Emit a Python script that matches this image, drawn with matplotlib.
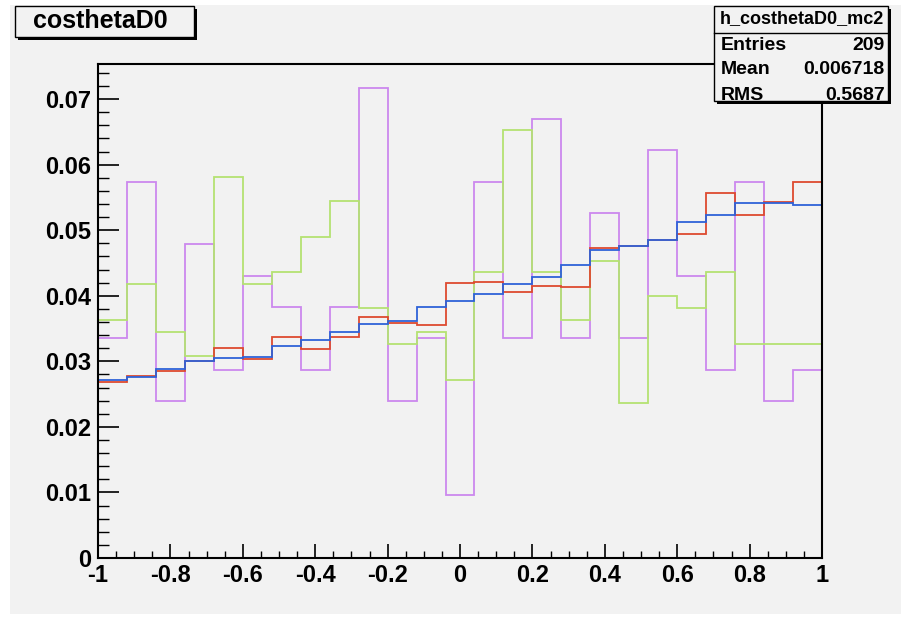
import numpy as np
import matplotlib
matplotlib.use('Agg')
import matplotlib.pyplot as plt
from matplotlib import font_manager
from matplotlib.patches import Rectangle
from matplotlib.ticker import MultipleLocator

# 25 bins on cos(theta) from -1 to 1
bin_edges = np.linspace(-1.0, 1.0, 26)

# mc2 sample, raw counts per bin (209 entries)
counts_mc2 = [7, 12, 5, 10, 6, 9, 8, 6, 8, 15, 5, 7, 2,
              12, 7, 14, 7, 11, 7, 13, 9, 6, 12, 5, 6]

# second small sample, raw counts per bin
counts_green = [20, 23, 19, 17, 32, 23, 24, 27, 30, 21, 18, 19, 15,
                24, 36, 24, 20, 25, 13, 22, 21, 24, 18, 18, 18]

# large samples, already normalised
frac_red = [0.0268, 0.0277, 0.0285, 0.0301, 0.0320, 0.0303, 0.0337, 0.0319,
            0.0337, 0.0368, 0.0359, 0.0355, 0.0419, 0.0421, 0.0406, 0.0415,
            0.0414, 0.0473, 0.0476, 0.0485, 0.0495, 0.0557, 0.0523, 0.0543,
            0.0574]
frac_blue = [0.0271, 0.0276, 0.0288, 0.0301, 0.0305, 0.0307, 0.0323, 0.0332,
             0.0345, 0.0357, 0.0361, 0.0383, 0.0392, 0.0403, 0.0418, 0.0429,
             0.0447, 0.0470, 0.0476, 0.0485, 0.0513, 0.0523, 0.0541, 0.0542,
             0.0539]

stats_name = 'h_costhetaD0_mc2'
stats_rows = [('Entries', '209'), ('Mean', '0.006718'), ('RMS', '0.5687')]

x_ticks = [-1, -0.8, -0.6, -0.4, -0.2, 0, 0.2, 0.4, 0.6, 0.8, 1]
x_tick_labels = ['-1', '-0.8', '-0.6', '-0.4', '-0.2', '0', '0.2', '0.4', '0.6', '0.8', '1']
y_ticks = [0, 0.01, 0.02, 0.03, 0.04, 0.05, 0.06, 0.07]
y_tick_labels = ['0', '0.01', '0.02', '0.03', '0.04', '0.05', '0.06', '0.07']

W, H = 901, 617
BG = '#f2f2f2'


def fx(px):
    return px / W


def fy(py):
    return 1 - py / H


def box(fig, x0, y0, x1, y1, shadow=3):
    # ROOT style pave: black drop shadow, then the framed box
    fig.patches.append(Rectangle((fx(x0 + shadow), fy(y1 + shadow)), fx(x1 - x0), (y1 - y0) / H,
                                 transform=fig.transFigure, facecolor='black', edgecolor='none', zorder=5))
    fig.patches.append(Rectangle((fx(x0), fy(y1)), fx(x1 - x0), (y1 - y0) / H,
                                 transform=fig.transFigure, facecolor=BG, edgecolor='black',
                                 linewidth=1.0, zorder=6))


plt.rcParams['font.family'] = ['Liberation Sans', 'DejaVu Sans']
plt.rcParams['font.weight'] = 'bold'

# x labels are tall and narrow; use the narrow face when it is there
installed = {f.name for f in font_manager.fontManager.ttflist}
if 'Liberation Sans Narrow' in installed:
    xlab_family, xlab_size = ['Liberation Sans Narrow', 'DejaVu Sans'], 18
else:
    xlab_family, xlab_size = ['Liberation Sans', 'DejaVu Sans'], 17

fig = plt.figure(figsize=(W / 100, H / 100), dpi=100, facecolor='white')

# canvas background, kept underneath the axes
fig.patches.append(Rectangle((fx(10), fy(614)), fx(W - 10), 609 / H, transform=fig.transFigure,
                             facecolor=BG, edgecolor='none', zorder=-10))

ax = fig.add_axes([fx(98), fy(558), fx(822 - 98), (558 - 64) / H])
ax.set_facecolor(BG)
ax.set_zorder(1)

norm_mc2 = np.array(counts_mc2) / sum(counts_mc2)
norm_green = np.array(counts_green) / sum(counts_green)

ax.stairs(norm_mc2, bin_edges, color='#cc88ee', linewidth=1.3)
ax.stairs(norm_green, bin_edges, color='#b4e272', linewidth=1.3)
ax.stairs(frac_red, bin_edges, color='#dd4a30', linewidth=1.3)
ax.stairs(frac_blue, bin_edges, color='#2f62d8', linewidth=1.3)

ax.set_xlim(-1, 1)
ax.set_ylim(0, 1.05 * norm_mc2.max())

for sp in ax.spines.values():
    sp.set_linewidth(1.5)
    sp.set_color('black')

ax.set_xticks(x_ticks)
ax.set_xticklabels(x_tick_labels, fontsize=xlab_size, fontweight='bold', family=xlab_family)
ax.set_yticks(y_ticks)
ax.set_yticklabels(y_tick_labels, fontsize=17, fontweight='bold')
ax.xaxis.set_minor_locator(MultipleLocator(0.05))
ax.yaxis.set_minor_locator(MultipleLocator(0.002))
ax.tick_params(axis='x', which='major', direction='in', length=10, width=1.2, pad=4)
ax.tick_params(axis='x', which='minor', direction='in', length=5, width=1.0)
ax.tick_params(axis='y', which='major', direction='in', length=15, width=1.2, pad=5)
ax.tick_params(axis='y', which='minor', direction='in', length=8, width=1.0)

# title pave
box(fig, 15, 6, 194, 37)
fig.text(fx(100), fy(21), 'costhetaD0', fontsize=18, fontweight='bold',
         ha='center', va='center', zorder=7)

# statistics pave, drawn over the frame corner
box(fig, 714, 6, 888, 101)
fig.lines.append(plt.Line2D([fx(714), fx(888)], [fy(33), fy(33)], transform=fig.transFigure,
                            color='black', linewidth=1.0, zorder=7))
fig.text(fx(802), fy(19), stats_name, fontsize=13, fontweight='bold',
         ha='center', va='center', zorder=7)
for i, (label, value) in enumerate(stats_rows):
    yy = fy(45 + 25 * i)
    fig.text(fx(721), yy, label, fontsize=14, fontweight='bold', ha='left', va='center', zorder=7)
    fig.text(fx(885), yy, value, fontsize=14, fontweight='bold', ha='right', va='center', zorder=7)

fig.savefig('out.png', dpi=100, facecolor='white')
